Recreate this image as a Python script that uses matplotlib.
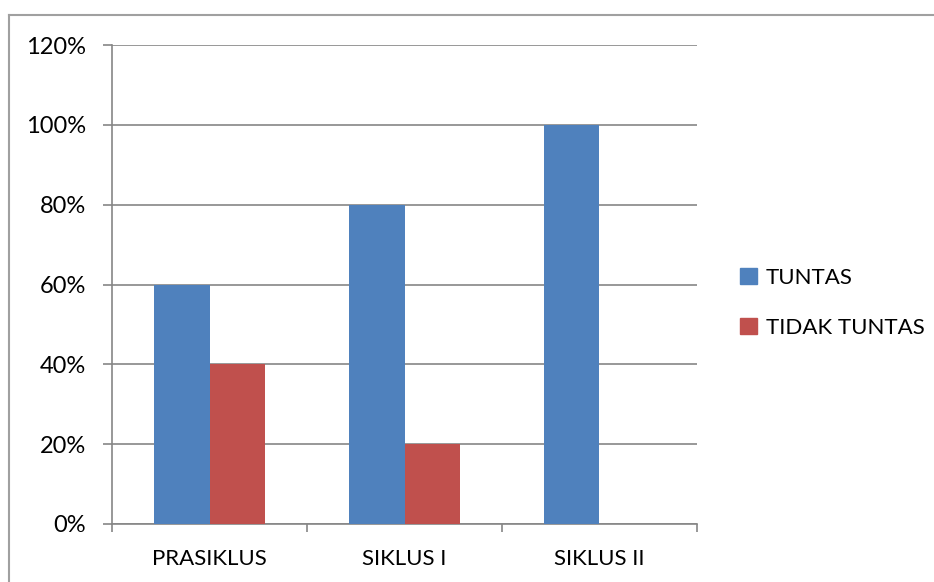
import numpy as np
import matplotlib.pyplot as plt
from matplotlib.lines import Line2D
from matplotlib.patches import Patch

plt.rcParams['font.family'] = ['Lato', 'DejaVu Sans']

categories = ['PRASIKLUS', 'SIKLUS I', 'SIKLUS II']
tuntas = [60, 80, 100]
tidak_tuntas = [40, 20, 0]
series_names = ['TUNTAS', 'TIDAK TUNTAS']
yticks = [0, 20, 40, 60, 80, 100, 120]

BLUE = '#4F81BD'
RED = '#C0504D'
GRID = '#868686'

fig = plt.figure(figsize=(9.34, 5.82), dpi=100)
ax = fig.add_axes([112/934, 1-524/582, (697-112)/934, (524-45)/582])

x = np.arange(len(categories))
w = 0.285
ax.bar(x - w/2, tuntas, w, color=BLUE, zorder=3)
ax.bar(x + w/2, tidak_tuntas, w, color=RED, zorder=3)

ax.set_xlim(-0.5, len(categories) - 0.5)
ax.set_ylim(0, 120)
ax.set_yticks(yticks)
ax.set_yticklabels([f'{v}%' for v in yticks])
ax.set_xticks(x)
ax.set_xticklabels(categories)
ax.set_xticks(np.arange(-0.5, len(categories)), minor=True)

# gridlines extend slightly left like Excel
ax.yaxis.grid(True, color=GRID, linewidth=1.2, zorder=1)
ax.tick_params(axis='y', which='both', length=6.5, width=1.2, color=GRID,
               direction='out', pad=12, labelsize=17)
ax.tick_params(axis='x', which='major', length=0, pad=18, labelsize=16)
ax.tick_params(axis='x', which='minor', length=6, width=1.2, color=GRID,
               direction='out')

for s in ['top', 'right']:
    ax.spines[s].set_visible(False)
for s in ['left', 'bottom']:
    ax.spines[s].set_color(GRID)
    ax.spines[s].set_linewidth(1.2)

handles = [Patch(color=BLUE), Patch(color=RED)]
fig.legend(handles, series_names, loc='center left',
           bbox_to_anchor=(720/934, 1-303/582), frameon=False,
           fontsize=16, handlelength=0.75, handleheight=0.75,
           handletextpad=0.4, labelspacing=1.35)

# chart border (only left and top visible)
fig.add_artist(Line2D([9/934, 9/934], [0, 1-15/582], color='#A0A0A0', lw=1.5,
                      transform=fig.transFigure))
fig.add_artist(Line2D([9/934, 1], [1-15/582, 1-15/582], color='#A0A0A0', lw=1.5,
                      transform=fig.transFigure))

fig.savefig('out.png', dpi=100)
